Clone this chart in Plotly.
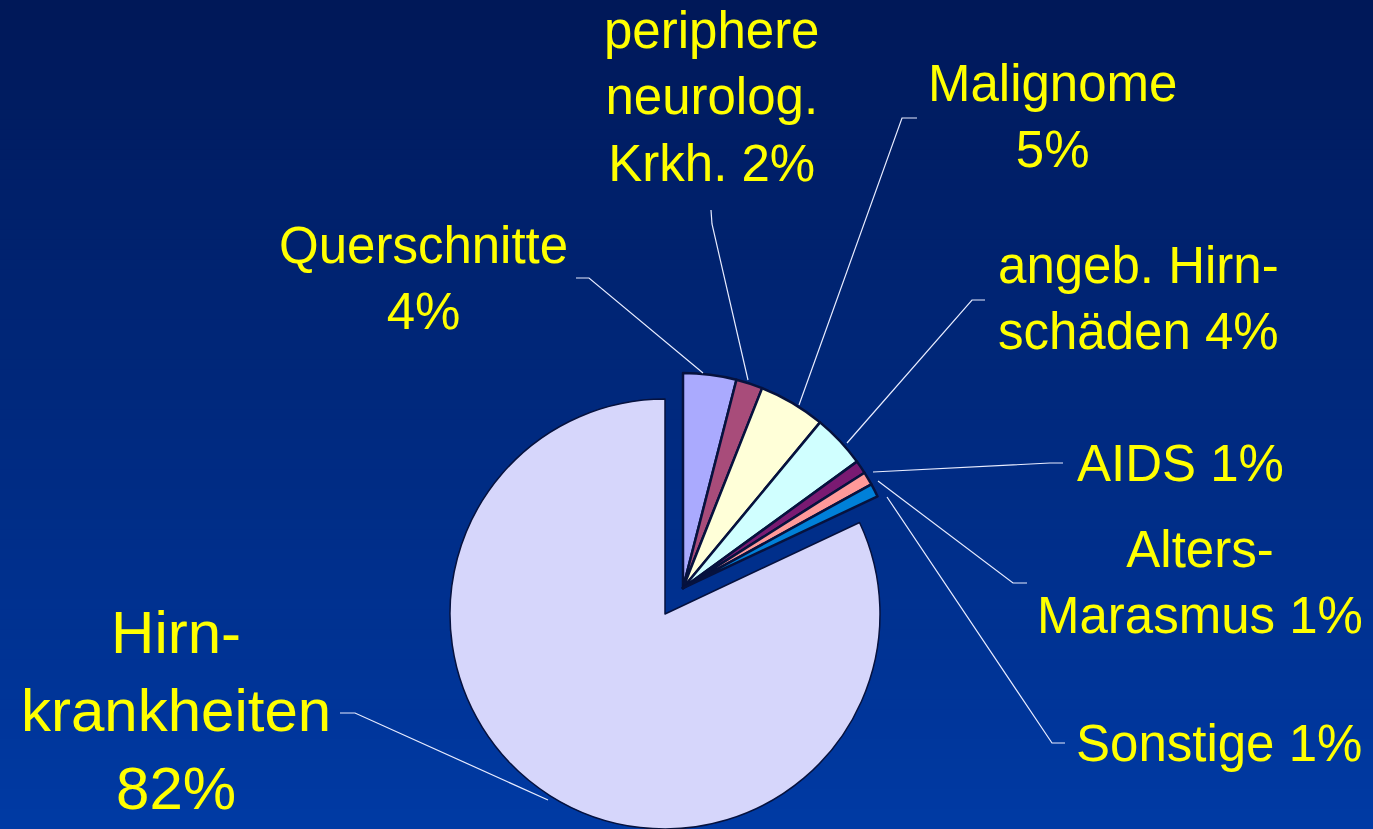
import plotly.graph_objects as go

# ---------------- data ----------------
categories = ["Querschnitte", "periphere neurolog. Krkh.", "Malignome",
              "angeb. Hirnschäden", "AIDS", "Alters-Marasmus", "Sonstige",
              "Hirnkrankheiten"]
values = [4, 2, 5, 4, 1, 1, 1, 82]
label_prefix = ["Querschnitte<br>", "periphere<br>neurolog.<br>Krkh. ", "Malignome<br>",
                "angeb. Hirn-<br>schäden ", "AIDS ", "Alters-<br>Marasmus ", "Sonstige ",
                "Hirn-<br>krankheiten<br>"]

# ---------------- styles ----------------
W, H = 1373, 829
slice_colors = ["#AAAAFE", "#A84C7A", "#FFFFD8", "#D0FFFF", "#7A1A72",
                "#FF9999", "#0080D8", "#D6D6FB"]
edge = "#06123E"
n = len(values)
main_idx = n - 1
transparent = "rgba(0,0,0,0)"


def px_x(x):
    return x / W


def px_y(y):
    return 1 - y / H


fig = go.Figure()

# main (large) slice, un-exploded
r = 215
cx = 665
fig.add_trace(go.Pie(
    labels=categories, values=values, sort=False, direction="clockwise", rotation=0,
    textinfo="none", showlegend=False, hoverinfo="label+percent",
    marker=dict(colors=[transparent] * main_idx + [slice_colors[main_idx]],
                line=dict(color=[transparent] * main_idx + [edge], width=1.5)),
    domain=dict(x=[px_x(cx - r), px_x(cx + r)], y=[0, (2 * r) / H]),
))

# small slices, exploded as a group
cx2, cy2 = 683, 588
r2 = 215
fig.add_trace(go.Pie(
    labels=categories, values=values, sort=False, direction="clockwise", rotation=0,
    textinfo="none", showlegend=False, hoverinfo="label+percent",
    marker=dict(colors=slice_colors[:main_idx] + [transparent],
                line=dict(color=[edge] * main_idx + [transparent], width=2.5)),
    domain=dict(x=[px_x(cx2 - r2), px_x(cx2 + r2)], y=[px_y(cy2 + r2), px_y(cy2 - r2)]),
))

# ---------------- background gradient ----------------
shapes = []
top_rgb = (0, 24, 88)
bot_rgb = (0, 58, 164)
bands = 83
for i in range(bands):
    t = i / (bands - 1)
    c = tuple(round(top_rgb[k] + (bot_rgb[k] - top_rgb[k]) * t) for k in range(3))
    shapes.append(dict(type="rect", xref="paper", yref="paper", layer="below",
                       x0=0, x1=1, y0=1 - (i + 1) / bands - 0.002, y1=1 - i / bands,
                       fillcolor="rgb(%d,%d,%d)" % c, line=dict(width=0)))

# ---------------- leader lines (layout decoration) ----------------
leaders = [
    [(576, 278), (589, 278), (703, 373)],
    [(711, 210), (712, 224), (748, 380)],
    [(917, 118), (902, 118), (799, 405)],
    [(985, 300), (972, 300), (847, 443)],
    [(1063, 463), (1050, 463), (873, 472)],
    [(1027, 583), (1013, 583), (878, 481)],
    [(1065, 743), (1052, 743), (887, 497)],
    [(340, 713), (355, 713), (548, 800)],
]
for pts in leaders:
    path = "M " + " L ".join("%.5f,%.5f" % (px_x(x), px_y(y)) for x, y in pts)
    shapes.append(dict(type="path", xref="paper", yref="paper", path=path,
                       line=dict(color="#E8ECFF", width=1.2)))

# ---------------- labels ----------------
label_pos = [(423, 342), (711, 194), (1052, 180), (1138, 362),
             (1180, 494), (1200, 646), (1219, 774), (176, 824)]
label_size = [51, 51, 51, 51, 51, 51, 51, 60]
annotations = []
for i in range(n):
    x, yb = label_pos[i]
    annotations.append(dict(
        text=label_prefix[i] + "%d%%" % values[i],
        x=px_x(x), y=px_y(yb), xref="paper", yref="paper",
        xanchor="center", yanchor="bottom", showarrow=False, align="center",
        font=dict(family="Liberation Sans, Arial, sans-serif", size=label_size[i],
                  color="#FFFF00"),
    ))

fig.update_layout(
    width=W, height=H, margin=dict(l=0, r=0, t=0, b=0),
    paper_bgcolor="#002878", plot_bgcolor="#002878",
    shapes=shapes, annotations=annotations,
)

fig.write_html("out.html", config={"displayModeBar": False},
               post_script="document.body.style.margin='0';document.body.style.overflow='hidden';")
